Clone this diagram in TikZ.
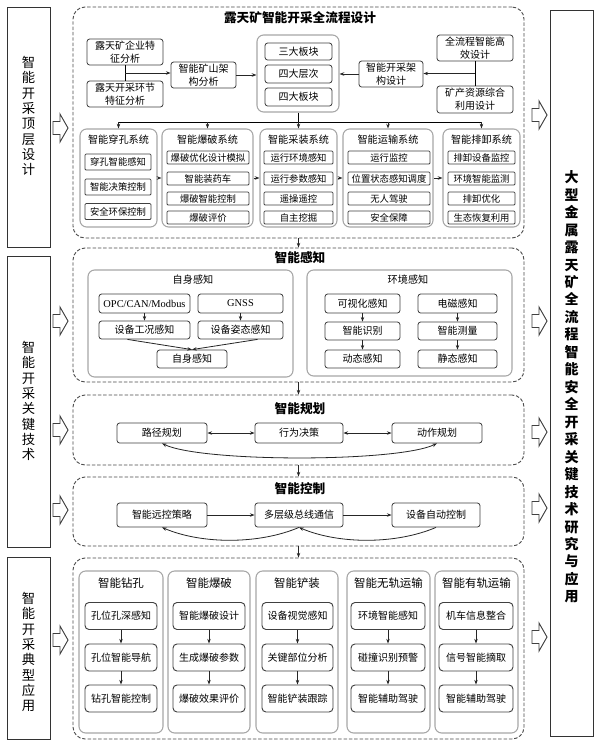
\documentclass[tikz,border=0pt]{standalone}
\usepackage{fontspec}
\setmainfont{Noto Sans CJK SC}
\newfontfamily\serifen{Liberation Serif}
\usetikzlibrary{arrows.meta,calc}
\begin{document}
\begin{tikzpicture}[x=0.75pt,y=-0.75pt,
  sz/.style 2 args={minimum width={#1*0.75pt},minimum height={#2*0.75pt}},
  bx/.style={draw=black!75, line width=0.6pt, rounded corners=2pt, inner sep=0pt, align=center, font=\fontsize{7.5}{9.6}\selectfont},
  sbx/.style={bx, rounded corners=0.8pt, font=\fontsize{7}{8}\selectfont},
  abx/.style={bx, rounded corners=3pt, line width=0.7pt, font=\fontsize{7.5}{9}\selectfont},
  grpbox/.style={draw=black!35, line width=0.8pt, rounded corners=5pt, inner sep=0pt},
  dbox/.style={draw=black!70, line width=0.7pt, dash pattern=on 2.6pt off 1.4pt, rounded corners=9pt, inner sep=0pt},
  colbox/.style={draw=black!80, line width=0.7pt, inner sep=0pt},
  ar/.style={-{Stealth[length=3.5pt,width=2.6pt]}, line width=0.6pt, draw=black!85},
  dar/.style={{Stealth[length=3.5pt,width=2.6pt]}-{Stealth[length=3.5pt,width=2.6pt]}, line width=0.6pt, draw=black!85},
  ttl/.style={font=\fontsize{9.5}{11}\selectfont\bfseries, inner sep=0pt},
  gttl/.style={font=\fontsize{7.6}{9}\selectfont, inner sep=0pt},
  attl/.style={font=\fontsize{8.6}{10}\selectfont, inner sep=0pt},
  vt/.style={align=center, inner sep=0pt, font=\fontsize{10}{11.5}\selectfont},
  pics/harrow/.style={code={\draw[line width=0.7pt, draw=black!75, fill=white]
     (0,-6.5) -- (7,-6.5) -- (7,-14) -- (15,0) -- (7,14) -- (7,6.5) -- (0,6.5) -- cycle;}}
]
\useasboundingbox (0,0) rectangle (600,744);
\fill[white] (0,0) rectangle (600,744);

% ---------------- left column ----------------
\node[colbox,sz={43}{240}] (L1) at (28.5,127) {};
\node[vt] (L1t) at (28.5,116) {智\\能\\开\\采\\顶\\层\\设\\计};
\node[colbox,sz={43}{291}] (L2) at (28.5,401.5) {};
\node[vt] (L2t) at (28.5,401) {智\\能\\开\\采\\关\\键\\技\\术};
\node[colbox,sz={43}{182}] (L3) at (28.5,648) {};
\node[vt] (L3t) at (28.5,652) {智\\能\\开\\采\\典\\型\\应\\用};

% ---------------- right column ----------------
\node[colbox,sz={43}{726}] (R) at (571.5,373) {};
\node[align=center, inner sep=0pt, font=\fontsize{10.5}{13.1}\selectfont\bfseries] (Rt) at (571.5,387)
 {大\\型\\金\\属\\露\\天\\矿\\全\\流\\程\\智\\能\\安\\全\\开\\采\\关\\键\\技\\术\\研\\究\\与\\应\\用};

% hollow arrows
\foreach \y in {128,321,430,510,640} \pic at (53,\y) {harrow};
\foreach \y in {115,321,432,508,637} \pic at (532,\y) {harrow};

% ---------------- top section ----------------
\node[dbox,sz={451}{231}] (D1) at (298.5,122.5) {};
\node[ttl] (D1t) at (300,18) {露天矿智能开采全流程设计};
\node[bx,sz={76}{26}] (a1) at (125,52) {露天矿企业特\\征分析};
\node[bx,sz={76}{26}] (a2) at (125,94) {露天开采环节\\特征分析};
\node[bx,sz={65}{26}] (a3) at (203.5,75) {智能矿山架\\构分析};
\node[grpbox,sz={82}{77}] (G0) at (298,73.5) {};
\node[bx,sz={67}{17}] (g1) at (298.5,51.5) {三大板块};
\node[bx,sz={67}{18}] (g2) at (298.5,74) {四大层次};
\node[bx,sz={67}{18}] (g3) at (298.5,97) {四大板块};
\node[bx,sz={64}{26}] (a4) at (391,74) {智能开采架\\构设计};
\node[bx,sz={76}{26}] (a5) at (475,48) {全流程智能高\\效设计};
\node[bx,sz={76}{27}] (a6) at (475,99.5) {矿产资源综合\\利用设计};

\draw[line width=0.6pt] (a1.south) -- (a2.north);
\coordinate (j1) at ($(a1.south)!0.5!(a2.north)$);
\draw[ar] (j1) -- (j1 -| a3.west);
\draw[ar] (a3.east) -- (a3.east -| G0.west);
\draw[line width=0.6pt] (a5.south) -- (a6.north);
\coordinate (j2) at ($(a5.south)!0.5!(a6.north)$);
\draw[ar] (j2) -- (j2 -| a4.east);
\draw[ar] (a4.west) -- (a4.west -| G0.east);

% systems
\node[grpbox,sz={77}{98}] (s1) at (118.5,178) {};
\node[grpbox,sz={91}{98}] (s2) at (207.5,178) {};
\node[grpbox,sz={77}{98}] (s3) at (298.5,178) {};
\node[grpbox,sz={90}{98}] (s4) at (388,178) {};
\node[grpbox,sz={77}{98}] (s5) at (481.5,178) {};
\node[gttl] at (118.5,140) {智能穿孔系统};
\node[gttl] at (207.5,140) {智能爆破系统};
\node[gttl] at (298.5,140) {智能采装系统};
\node[gttl] at (388,140) {智能运输系统};
\node[gttl] at (481.5,140) {智能排卸系统};

\node[sbx,sz={66}{16}] (s1a) at (118,162) {穿孔智能感知};
\node[sbx,sz={66}{16}] (s1b) at (118,187) {智能决策控制};
\node[sbx,sz={66}{16}] (s1c) at (118,211.5) {安全环保控制};

\node[sbx,sz={82}{13}] (s2a) at (208,157.5) {爆破优化设计模拟};
\node[sbx,sz={82}{13}] (s2b) at (208,178.5) {智能装药车};
\node[sbx,sz={82}{13}] (s2c) at (208,198.5) {爆破智能控制};
\node[sbx,sz={82}{13}] (s2d) at (208,217.5) {爆破评价};

\node[sbx,sz={69}{13}] (s3a) at (298.5,157.5) {运行环境感知};
\node[sbx,sz={69}{13}] (s3b) at (298.5,178.5) {运行参数感知};
\node[sbx,sz={69}{13}] (s3c) at (298.5,198.5) {遥操遥控};
\node[sbx,sz={69}{13}] (s3d) at (298.5,217.5) {自主挖掘};

\node[sbx,sz={82}{13}] (s4a) at (389,157.5) {运行监控};
\node[sbx,sz={82}{13}] (s4b) at (389,178.5) {位置状态感知调度};
\node[sbx,sz={82}{13}] (s4c) at (389,198.5) {无人驾驶};
\node[sbx,sz={82}{13}] (s4d) at (389,217.5) {安全保障};

\node[sbx,sz={67}{13}] (s5a) at (481.5,157.5) {排卸设备监控};
\node[sbx,sz={67}{13}] (s5b) at (481.5,178.5) {环境智能监测};
\node[sbx,sz={67}{13}] (s5c) at (481.5,198.5) {排卸优化};
\node[sbx,sz={67}{13}] (s5d) at (481.5,217.5) {生态恢复利用};

\coordinate (bus) at (298.5,122);
\draw[line width=0.7pt] (G0.south) -- (G0.south |- bus);
\draw[line width=0.7pt] (s1.north |- bus) -- (s5.north |- bus);
\foreach \s in {s1,s2,s3,s4,s5} \draw[ar] (\s.north |- bus) -- (\s.north);
\draw[ar] (s1.east) -- (s2.west);
\draw[ar] (s2.east) -- (s3.west);
\draw[ar] (s3.east) -- (s4.west);
\draw[ar] (s4.east) -- (s5.west);

% ---------------- perception ----------------
\node[dbox,sz={451}{134}] (D2) at (298.5,315) {};
\node[ttl] (D2t) at (300,258) {智能感知};
\node[grpbox,sz={205}{107}] (pg1) at (190.5,323.5) {};
\node[gttl] at (193,280) {自身感知};
\node[bx,sz={91}{19},font=\serifen\fontsize{7.8}{9}\selectfont] (p1) at (144.5,303.5) {OPC/CAN/Modbus};
\node[bx,sz={85}{19},font=\serifen\fontsize{7.8}{9}\selectfont] (p2) at (240.5,303.5) {GNSS};
\node[bx,sz={91}{18}] (p3) at (144.5,330) {设备工况感知};
\node[bx,sz={85}{18}] (p4) at (240.5,330) {设备姿态感知};
\node[bx,sz={70}{18}] (p5) at (192,359) {自身感知};
\draw[ar] (p1) -- (p3);
\draw[ar] (p2) -- (p4);
\draw[ar] ($(p3.south)+(-17,0)$) -- (p5.north);
\draw[ar] ($(p4.south)+(17,0)$) -- (p5.north);

\node[grpbox,sz={205}{106}] (pg2) at (409.5,323) {};
\node[gttl] at (408,280) {环境感知};
\node[bx,sz={75}{19}] (q1) at (362.5,303.5) {可视化感知};
\node[bx,sz={75}{18}] (q2) at (362.5,331) {智能识别};
\node[bx,sz={75}{18}] (q3) at (362.5,359) {动态感知};
\node[bx,sz={79}{19}] (q4) at (457.5,303.5) {电磁感知};
\node[bx,sz={79}{18}] (q5) at (457.5,331) {智能测量};
\node[bx,sz={79}{18}] (q6) at (457.5,359) {静态感知};
\draw[ar] (q1) -- (q2);
\draw[ar] (q2) -- (q3);
\draw[ar] (q4) -- (q5);
\draw[ar] (q5) -- (q6);

% ---------------- planning ----------------
\node[dbox,sz={451}{70}] (D3) at (298.5,430) {};
\node[ttl] (D3t) at (300,409) {智能规划};
\node[bx,sz={90}{20}] (r1) at (162,433) {路径规划};
\node[bx,sz={88}{20}] (r2) at (299,433) {行为决策};
\node[bx,sz={90}{20}] (r3) at (437,433) {动作规划};
\draw[dar] (r1.east) -- (r2.west);
\draw[dar] (r2.east) -- (r3.west);
\draw[dar] (r1.south) .. controls +(40,19) and +(-40,19) .. (r3.south);

% ---------------- control ----------------
\node[dbox,sz={451}{69}] (D4) at (298.5,511.5) {};
\node[ttl] (D4t) at (300,489) {智能控制};
\node[bx,sz={90}{24}] (c1) at (162,515) {智能远控策略};
\node[bx,sz={88}{24}] (c2) at (299,515) {多层级总线通信};
\node[bx,sz={88}{24}] (c3) at (436,515) {设备自动控制};
\draw[ar] (c1.east) -- (c2.west);
\draw[ar] (c2.east) -- (c3.west);
\draw[ar] (c2.south) .. controls +(-40,17) and +(40,17) .. (c1.south);
\draw[ar] (c3.south) .. controls +(-40,17) and +(40,17) .. (c2.south);

% ---------------- applications ----------------
\node[dbox,sz={451}{181}] (D5) at (298.5,648.5) {};
\node[grpbox,sz={84}{162}] (t1) at (121,652) {};
\node[grpbox,sz={82}{162}] (t2) at (209,652) {};
\node[grpbox,sz={82}{162}] (t3) at (297,652) {};
\node[grpbox,sz={83}{162}] (t4) at (388.5,652) {};
\node[grpbox,sz={83}{162}] (t5) at (476.5,652) {};
\node[attl] at (121,583) {智能钻孔};
\node[attl] at (209,583) {智能爆破};
\node[attl] at (297,583) {智能铲装};
\node[attl] at (388.5,583) {智能无轨运输};
\node[attl] at (476.5,583) {智能有轨运输};

\node[abx,sz={72}{27}] (t1a) at (121,616) {孔位孔深感知};
\node[abx,sz={72}{27}] (t1b) at (121,657.5) {孔位智能导航};
\node[abx,sz={72}{27}] (t1c) at (121,698.5) {钻孔智能控制};
\node[abx,sz={72}{27}] (t2a) at (209,616) {智能爆破设计};
\node[abx,sz={72}{27}] (t2b) at (209,657.5) {生成爆破参数};
\node[abx,sz={72}{27}] (t2c) at (209,698.5) {爆破效果评价};
\node[abx,sz={71}{27}] (t3a) at (297.5,616) {设备视觉感知};
\node[abx,sz={71}{27}] (t3b) at (297.5,657.5) {关键部位分析};
\node[abx,sz={71}{27}] (t3c) at (297.5,698.5) {智能铲装跟踪};
\node[abx,sz={74}{27}] (t4a) at (388,616) {环境智能感知};
\node[abx,sz={74}{27}] (t4b) at (388,657.5) {碰撞识别预警};
\node[abx,sz={74}{27}] (t4c) at (388,698.5) {智能辅助驾驶};
\node[abx,sz={74}{27}] (t5a) at (476,616) {机车信息整合};
\node[abx,sz={74}{27}] (t5b) at (476,657.5) {信号智能摘取};
\node[abx,sz={74}{27}] (t5c) at (476,698.5) {智能辅助驾驶};
\foreach \c in {t1,t2,t3,t4,t5} {
  \draw[ar] (\c a) -- (\c b);
  \draw[ar] (\c b) -- (\c c);
}

% arrows between sections
\draw[ar] (D1.south) -- (D2.north);
\draw[ar] (D2.south) -- (D3.north);
\draw[ar] (D3.south) -- (D4.north);
\draw[ar] (D4.south) -- (D5.north);
\end{tikzpicture}
\end{document}
